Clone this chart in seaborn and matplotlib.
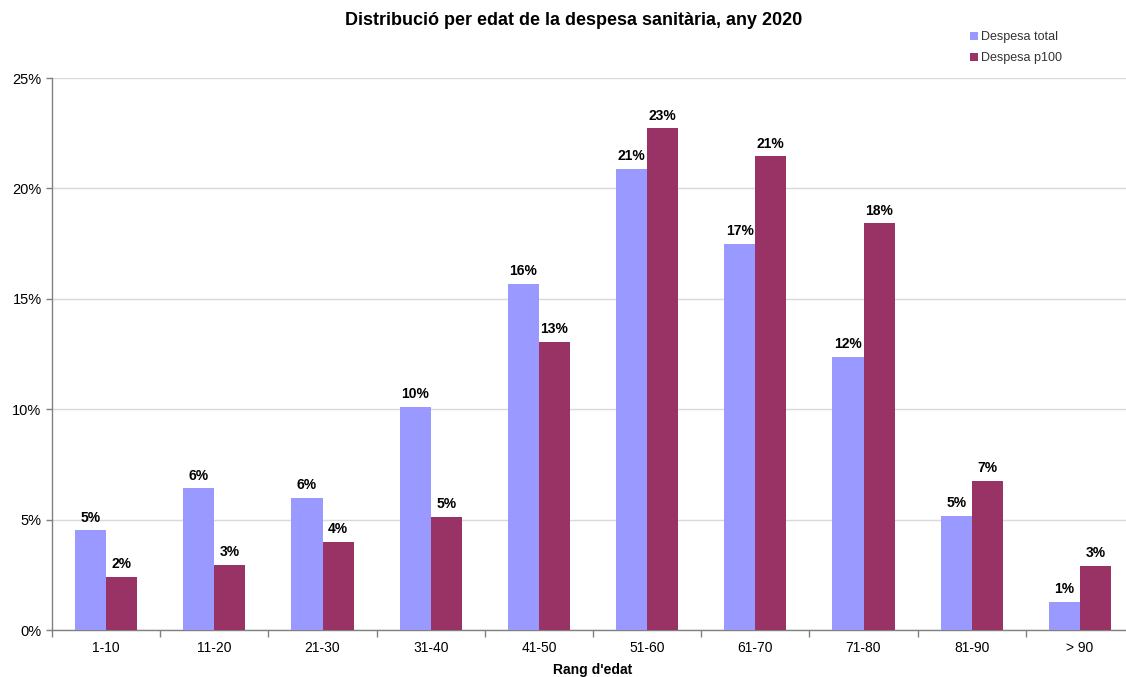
import matplotlib

matplotlib.use("Agg")

import matplotlib.pyplot as plt
import pandas as pd
import seaborn as sns
from matplotlib.ticker import FixedLocator, FuncFormatter

# values (percent)
age_groups = ["1-10", "11-20", "21-30", "31-40", "41-50", "51-60", "61-70", "71-80", "81-90", "> 90"]
despesa_total = [4.52, 6.42, 5.98, 10.12, 15.67, 20.88, 17.48, 12.37, 5.18, 1.28]
despesa_p100 = [2.41, 2.96, 4.0, 5.13, 13.05, 22.73, 21.45, 18.43, 6.76, 2.91]
series_names = ["Despesa total", "Despesa p100"]
colors = ["#9999FF", "#993366"]

df = pd.DataFrame({
    "edat": age_groups * 2,
    "valor": despesa_total + despesa_p100,
    "serie": [series_names[0]] * len(age_groups) + [series_names[1]] * len(age_groups),
})

sns.set_style("white")
plt.rcParams["font.family"] = ["Liberation Sans", "DejaVu Sans"]
plt.rcParams["text.color"] = "black"
plt.rcParams["xtick.color"] = "black"
plt.rcParams["ytick.color"] = "black"
plt.rcParams["axes.labelcolor"] = "black"

fig = plt.figure(figsize=(11.26, 6.77), dpi=100)
ax = fig.add_axes([52 / 1126, 47 / 677, 1082 / 1126, 552 / 677])

sns.barplot(data=df, x="edat", y="valor", hue="serie", order=age_groups,
            hue_order=series_names, palette=colors, width=0.575, gap=0,
            saturation=1, linewidth=0, ax=ax, zorder=3)

for cont in ax.containers:
    ax.bar_label(cont, fmt="{:.0f}%", padding=4, fontsize=10, fontweight="bold", color="black")

ax.set_ylim(0, 25)
ax.set_xlim(-0.5, len(age_groups) - 0.5)
ax.set_yticks([0, 5, 10, 15, 20, 25])
ax.yaxis.set_major_formatter(FuncFormatter(lambda v, p: f"{v:.0f}%"))
ax.yaxis.grid(True, color="#d9d9d9", linewidth=1, zorder=0)
ax.set_axisbelow(True)

# excel-like ticks between categories, labels at the centres
ax.xaxis.set_major_locator(FixedLocator([i - 0.5 for i in range(len(age_groups) + 1)]))
ax.xaxis.set_minor_locator(FixedLocator(list(range(len(age_groups)))))
ax.set_xticklabels([], minor=False)
ax.set_xticklabels(age_groups, minor=True)
ax.tick_params(axis="x", which="major", length=5, width=1, color="#808080", direction="out", bottom=True)
ax.tick_params(axis="x", which="minor", length=0, labelsize=10, pad=8)
ax.tick_params(axis="y", length=4, width=1, color="#808080", direction="out", left=True, labelsize=10.5)

for side in ["top", "right"]:
    ax.spines[side].set_visible(False)
for side in ["left", "bottom"]:
    ax.spines[side].set_color("#808080")
    ax.spines[side].set_linewidth(1)

ax.set_ylabel("")
ax.set_xlabel("Rang d'edat", fontsize=10, fontweight="bold", labelpad=6)
fig.suptitle("Distribució per edat de la despesa sanitària, any 2020", x=0.509, y=0.983,
             fontsize=13, fontweight="bold")

leg = ax.legend(loc="upper left", bbox_to_anchor=(913 / 1082, (630 - 26) / 552), frameon=False,
                fontsize=9, handlelength=0.6, handleheight=0.6, handletextpad=0.3,
                labelspacing=0.75, borderaxespad=0)
for t in leg.get_texts():
    t.set_color("#333333")

fig.savefig("out.png", dpi=100)
plt.close(fig)
